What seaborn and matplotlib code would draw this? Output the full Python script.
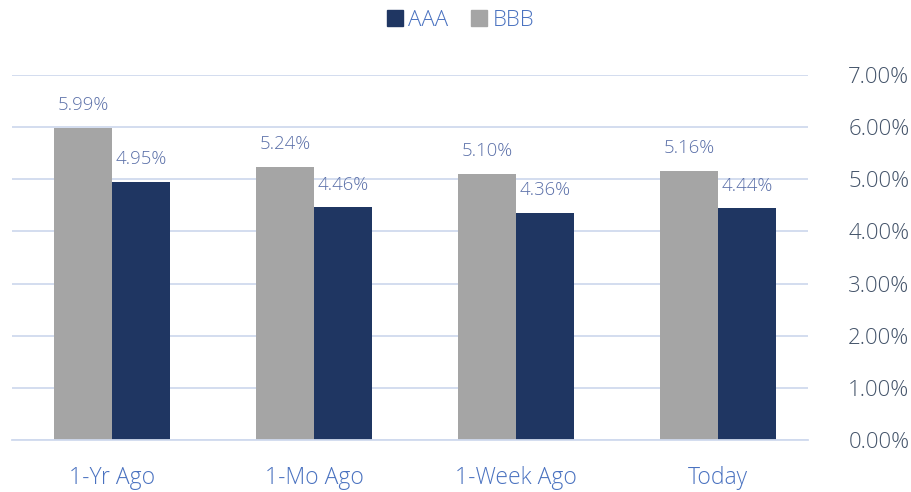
import matplotlib
matplotlib.use('Agg')
import matplotlib.pyplot as plt
from matplotlib.lines import Line2D
import pandas as pd
import seaborn as sns

# data
periods = ['1-Yr Ago', '1-Mo Ago', '1-Week Ago', 'Today']
bbb = [5.99, 5.24, 5.10, 5.16]
aaa = [4.95, 4.46, 4.36, 4.44]
yticks = [0, 1, 2, 3, 4, 5, 6, 7]

NAVY = '#1F3662'
GRAY = '#A5A5A5'
GRID = '#D0DAEE'
BLUE = '#4A72C0'
LABEL = '#5A6FA8'
TICK = '#44546A'

df = pd.DataFrame({
    'Period': periods * 2,
    'Rating': ['BBB'] * 4 + ['AAA'] * 4,
    'Yield': bbb + aaa,
})

sns.set_style('white')
plt.rcParams['font.family'] = ['Open Sans', 'DejaVu Sans']
plt.rcParams['font.weight'] = 'light'

fig = plt.figure(figsize=(9.12, 4.92), dpi=100)
ax = fig.add_axes([12 / 912, 52 / 492, 796 / 912, 365 / 492])

sns.barplot(data=df, x='Period', y='Yield', hue='Rating', order=periods,
            hue_order=['BBB', 'AAA'], palette={'BBB': GRAY, 'AAA': NAVY},
            width=0.574, gap=0, saturation=1, linewidth=0, legend=False, ax=ax)

# value labels above each bar
for cont in ax.containers:
    ax.bar_label(cont, labels=[f'{v:.2f}%' for v in cont.datavalues],
                 padding=10, fontsize=13.3, color=LABEL)

ax.set_xlim(-100 / 202, -100 / 202 + 796 / 202)
ax.set_ylim(0, 7)
ax.set_yticks(yticks)
ax.set_yticklabels([f'{t:.2f}%' for t in yticks], ha='right')
ax.yaxis.tick_right()
ax.tick_params(axis='y', length=0, pad=73, labelsize=16, labelcolor=TICK)
ax.tick_params(axis='x', length=0, pad=19, labelsize=16.5, labelcolor=BLUE)
ax.grid(axis='y', color=GRID, linewidth=1.3)
ax.set_axisbelow(True)
for s in ['top', 'left', 'right']:
    ax.spines[s].set_visible(False)
ax.spines['bottom'].set_color(GRID)
ax.spines['bottom'].set_linewidth(1.3)
ax.set_xlabel('')
ax.set_ylabel('')

handles = [
    Line2D([], [], marker='s', linestyle='', markersize=11, color=NAVY, label='AAA'),
    Line2D([], [], marker='s', linestyle='', markersize=11, color=GRAY, label='BBB'),
]
leg = fig.legend(handles=handles, loc='center', bbox_to_anchor=(459 / 912, 1 - 20 / 492),
                 ncol=2, frameon=False, fontsize=16, handletextpad=0.1,
                 columnspacing=0.9, handlelength=1.0)
for t in leg.get_texts():
    t.set_color(BLUE)

fig.savefig('out.png', dpi=100)
